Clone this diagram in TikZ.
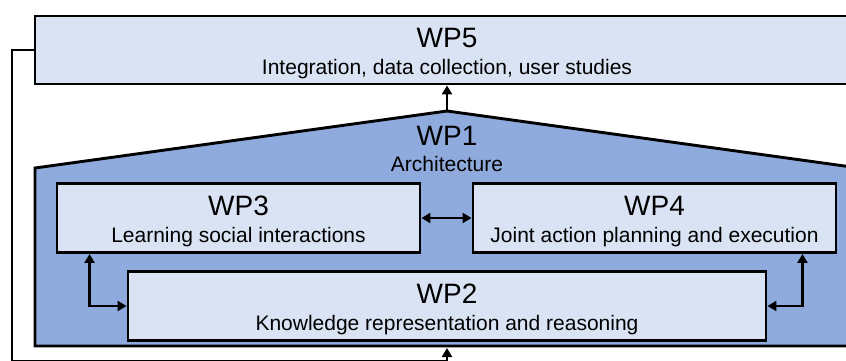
\documentclass[tikz,border=0pt]{standalone}
\usepackage{fontspec}
\setmainfont{Liberation Sans}
\usetikzlibrary{arrows.meta}
\definecolor{wplight}{HTML}{DAE3F3}
\definecolor{wpdark}{HTML}{8FAADC}
\tikzset{
  wpbox/.style={draw, fill=wplight, inner sep=0pt},
  wptitle/.style={anchor=base, inner sep=0pt, font=\fontsize{28}{28}\selectfont},
  wpsub/.style={anchor=base, inner sep=0pt, font=\fontsize{21}{21}\selectfont},
  both/.style={{Triangle[width=10pt,length=9pt]}-{Triangle[width=10pt,length=9pt]}},
  into/.style={-{Triangle[width=10pt,length=9pt]}}
}
% titre et sous-titre d'un WP
\newcommand{\wplabels}[3]{
  \node[wptitle] (#1title) at ([yshift=2.5pt]#1.center) {#2};
  \node[wpsub] (#1sub) at ([yshift=-24pt]#1.center) {#3};
}

\begin{document}
\begin{tikzpicture}[x=1pt, y=-1pt, line width=2.9pt]
    \useasboundingbox (0,0) rectangle (846,360);
    \clip (0,0) rectangle (846,360);

    % WP5

    \node[wpbox, minimum width=824pt, minimum height=68pt] (wp5) at (447,50) {};
    \wplabels{wp5}{WP5}{Integration, data collection, user studies}

    % WP1

    \coordinate (wp1top) at (447,111);
    \coordinate (wp1bottom) at (447,348);
    \draw[fill=wpdark] (35,346) -- (35,168) -- (wp1top) -- (859,168) -- (859,346) -- cycle;
    \node[wptitle] (wp1title) at (447,145) {WP1};
    \node[wpsub] (wp1sub) at (447,171) {Architecture};

    % WP3, WP4, WP2

    \node[wpbox, minimum width=363pt, minimum height=69pt] (wp3) at (238.5,218) {};
    \wplabels{wp3}{WP3}{Learning social interactions}
    \node[wpbox, minimum width=363pt, minimum height=69pt] (wp4) at (654.5,218) {};
    \wplabels{wp4}{WP4}{Joint action planning and execution}
    \node[wpbox, minimum width=638pt, minimum height=69pt] (wp2) at (447,306) {};
    \wplabels{wp2}{WP2}{Knowledge representation and reasoning}

    \draw[both] (wp3) -- (wp4);
    \draw[both] ([xshift=34pt]wp3.south west) |- (wp2.west);
    \draw[both] ([xshift=-35pt]wp4.south east) |- (wp2.east);

    % Liens

    \draw[into] (wp1top) -- (wp5);
    \coordinate (loop) at (12,361);
    \draw[into] (wp5.west) -| (loop) -| (wp1bottom);
\end{tikzpicture}
\end{document}
